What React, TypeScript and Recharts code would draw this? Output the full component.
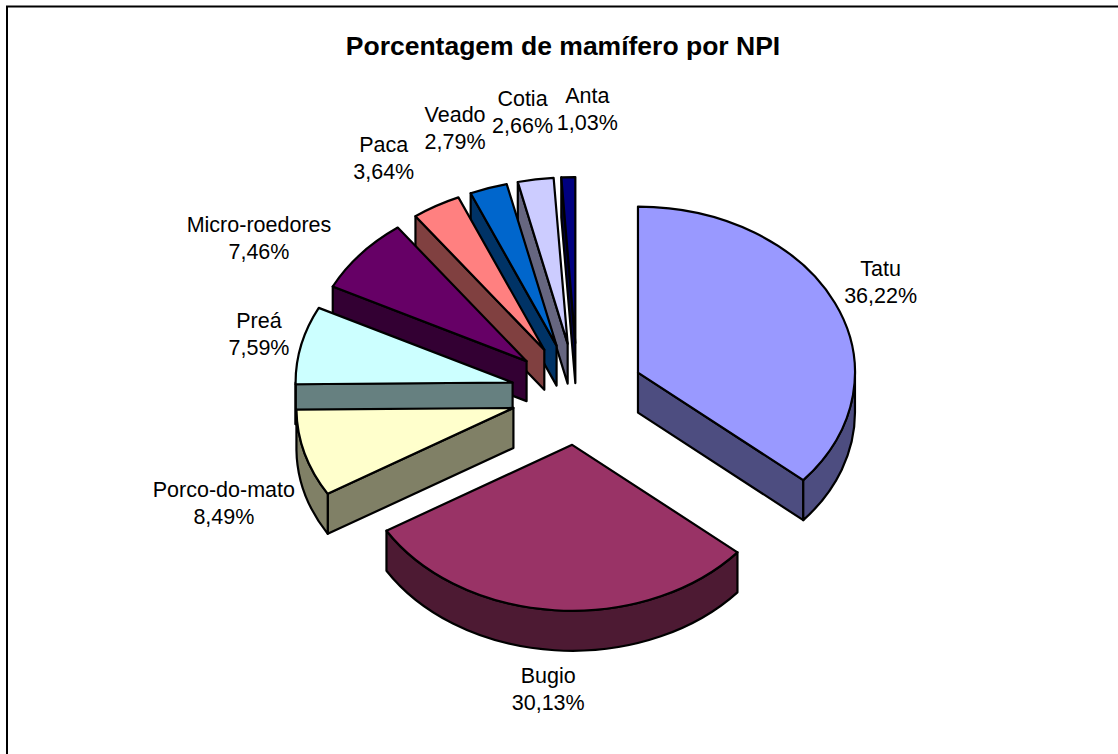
import { Pie, PieChart } from "recharts";

const categories = ["Tatu", "Bugio", "Porco-do-mato", "Preá", "Micro-roedores", "Paca", "Veado", "Cotia", "Anta"];
const shares = [36.22, 30.13, 8.49, 7.59, 7.46, 3.64, 2.79, 2.66, 1.03];
const topColors = ["#9999FF", "#993366", "#FFFFCC", "#CCFFFF", "#660066", "#FF8080", "#0066CC", "#CCCCFF", "#000080"];
const sideColors = ["#4D4D80", "#4D1A33", "#808066", "#668080", "#330033", "#804040", "#003366", "#666680", "#000040"];

const FONT = "'Liberation Sans', Arial, sans-serif";
const TILT = 0.765; // ellipse height / width
const EXPLODE = 0.307;
const DEPTH = 40;
const RAD = Math.PI / 180;

// nudges from the default radial label spot, in category order
const labelNudges: Record<string, [number, number]> = {
  Tatu: [17.5, -10],
  Bugio: [-4, 54],
  "Porco-do-mato": [-51, 43],
  Preá: [-12, -5],
  "Micro-roedores": [-78, 0],
  Paca: [-37, -26],
  Veado: [-23.6, -35.5],
  Cotia: [-8.5, -42],
  Anta: [20, -43],
};

// painted back to front, so the table runs counter-clockwise from the top
const table = categories
  .map((name, i) => ({ name, value: shares[i], fill: topColors[i], side: sideColors[i] }))
  .reverse();

function Slice3D(props: any) {
  const { cx, cy, outerRadius: rx, startAngle, endAngle, midAngle, fill, side } = props;
  const ry = rx * TILT;
  const ax = cx + EXPLODE * rx * Math.cos(midAngle * RAD);
  const ay = cy - EXPLODE * ry * Math.sin(midAngle * RAD);
  const px = (deg: number) => ax + rx * Math.cos(deg * RAD);
  const py = (deg: number) => ay - ry * Math.sin(deg * RAD);
  const common = { stroke: "#000", strokeWidth: 2.2, strokeLinejoin: "round" as const };

  const radialWall = (deg: number) =>
    `M${ax},${ay}L${px(deg)},${py(deg)}L${px(deg)},${py(deg) + DEPTH}L${ax},${ay + DEPTH}Z`;

  const walls: string[] = [];
  if (Math.cos(startAngle * RAD) > 1e-6) walls.push(radialWall(startAngle));
  if (Math.cos(endAngle * RAD) < -1e-6) walls.push(radialWall(endAngle));

  // outer wall only where the rim faces the viewer (180..360 degrees)
  const from = Math.max(startAngle, 180);
  const to = Math.min(endAngle, 360);
  if (to > from) {
    const large = to - from > 180 ? 1 : 0;
    walls.push(
      `M${px(from)},${py(from)}A${rx},${ry} 0 ${large} 0 ${px(to)},${py(to)}` +
        `L${px(to)},${py(to) + DEPTH}A${rx},${ry} 0 ${large} 1 ${px(from)},${py(from) + DEPTH}Z`
    );
  }

  const large = endAngle - startAngle > 180 ? 1 : 0;
  const top =
    `M${ax},${ay}L${px(startAngle)},${py(startAngle)}` +
    `A${rx},${ry} 0 ${large} 0 ${px(endAngle)},${py(endAngle)}Z`;

  return (
    <g>
      {walls.map((d, i) => (
        <path key={i} d={d} fill={side} {...common} />
      ))}
      <path d={top} fill={fill} {...common} />
    </g>
  );
}

function sliceLabel(props: any) {
  const { cx, cy, outerRadius: rx, midAngle, name, value } = props;
  const [dx, dy] = labelNudges[name];
  const x = cx + 1.45 * rx * Math.cos(midAngle * RAD) + dx;
  const y = cy - 1.45 * rx * 0.77 * Math.sin(midAngle * RAD) + dy;
  return (
    <text x={x} y={y} textAnchor="middle" fontFamily={FONT} fontSize={21.5} fill="#000">
      <tspan x={x} y={y - 6}>{name}</tspan>
      <tspan x={x} y={y + 21}>{value.toFixed(2).replace(".", ",") + "%"}</tspan>
    </text>
  );
}

export default function App() {
  return (
    <div style={{ position: "absolute", left: 0, top: 0, width: 1118, height: 754, background: "#fff" }}>
      <PieChart width={1118} height={754} margin={{ top: 0, right: 0, bottom: 0, left: 0 }}>
        <line x1={6} y1={6.5} x2={1118} y2={6.5} stroke="#000" strokeWidth={2} />
        <line x1={7} y1={6} x2={7} y2={754} stroke="#000" strokeWidth={2} />
        <text x={563} y={55} textAnchor="middle" fontFamily={FONT} fontSize={26.5} fontWeight="bold" fill="#000">
          Porcentagem de mamífero por NPI
        </text>
        <Pie
          data={table}
          dataKey="value"
          nameKey="name"
          cx={577.5}
          cy={394}
          outerRadius={217}
          startAngle={90}
          endAngle={450}
          shape={Slice3D}
          label={sliceLabel}
          labelLine={false}
          isAnimationActive={false}
        />
      </PieChart>
    </div>
  );
}
